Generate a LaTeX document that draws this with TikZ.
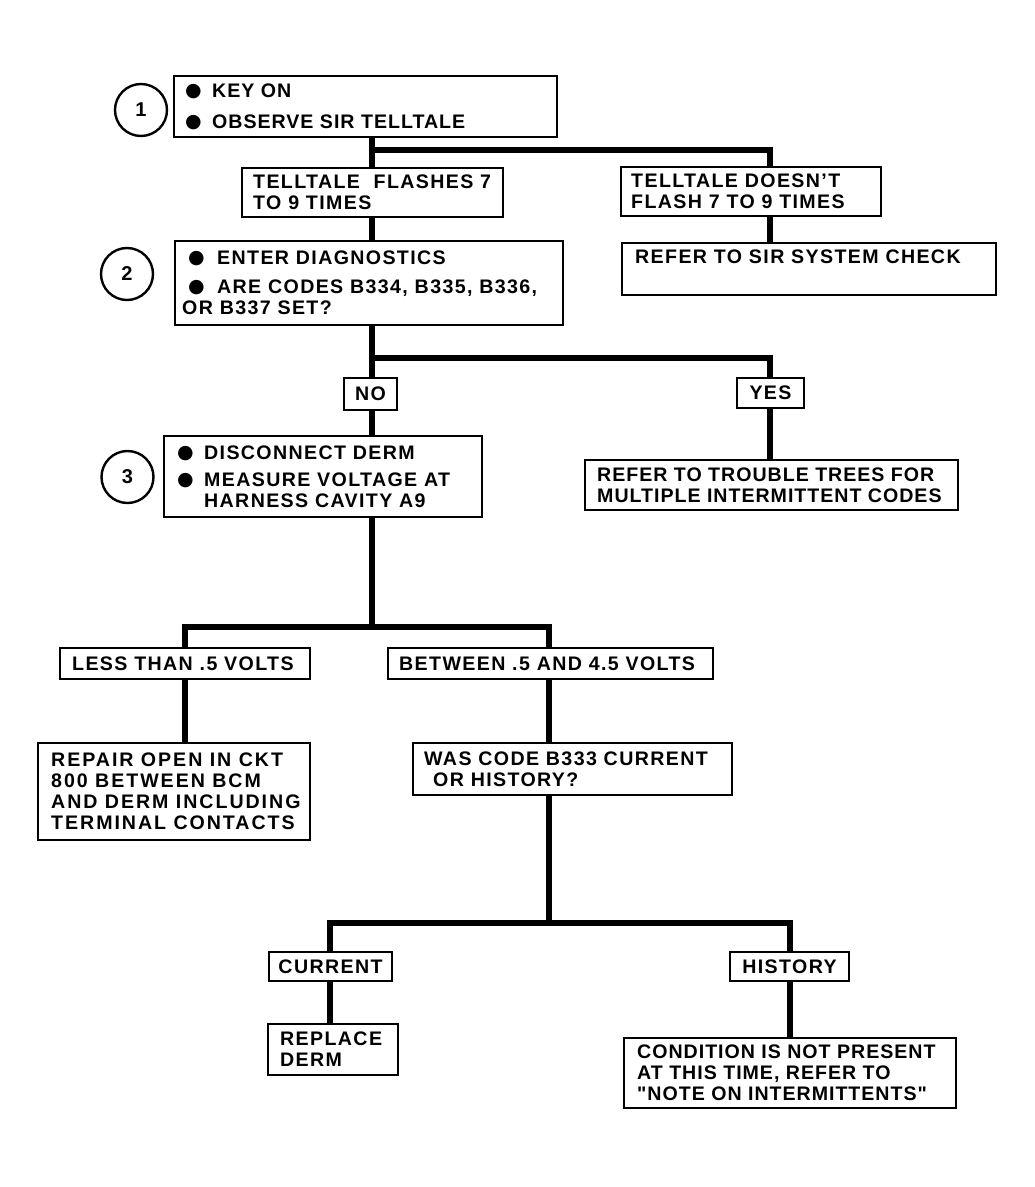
\documentclass[tikz,border=0pt]{standalone}
\usepackage{fontspec}
\setmainfont{Liberation Sans}[LetterSpace=7]
\newfontfamily\tightf{Liberation Sans}[LetterSpace=5]
\newfontfamily\widef{Liberation Sans}[LetterSpace=10]
\newfontfamily\qfont{Liberation Sans}[LetterSpace=5]
\newfontfamily\dejavu{DejaVu Sans}
\usetikzlibrary{backgrounds}
\newcommand\bl[1]{\makebox[#1][l]{\raisebox{0.6pt}{\dejavu\fontsize{9.5pt}{10pt}\selectfont ●}}}
\newcommand\sq{{\qfont\bfseries "}}
\tikzset{
  box/.style={draw, line width=1.2pt, fill=white, inner sep=0pt, rectangle},
  txt/.style={inner sep=0pt, align=left, font=\bfseries\fontsize{9.8pt}{10.5pt}\selectfont},
  ttxt/.style={txt, font=\tightf\bfseries\fontsize{9.8pt}{10.5pt}\selectfont},
  wtxt/.style={txt, font=\widef\bfseries\fontsize{9.8pt}{10.5pt}\selectfont},
  ctxt/.style={box, font=\bfseries\fontsize{9.8pt}{10.5pt}\selectfont},
  circ/.style={draw, circle, line width=1.2pt, minimum size=26pt, inner sep=0pt, font=\bfseries\fontsize{10pt}{12pt}\selectfont},
  conn/.style={line width=3.4pt, line join=miter, line cap=butt}
}
\begin{document}
\begin{tikzpicture}[x=0.5pt,y=-0.5pt]
\useasboundingbox (0,0) rectangle (1034,1187);
% step 1
\node[circ] (c1) at (141,110) {1};
\node[box, minimum width=191.5pt, minimum height=30.5pt] (b1) at (365.5,106.5) {};
\node[ttxt, anchor=west] (b1t) at ([xshift=6pt]b1.west) {\bl{13.5pt}KEY ON\\[5pt]\bl{13.5pt}OBSERVE SIR TELLTALE};
\node[box, minimum width=130.5pt, minimum height=24.5pt] (fl) at (372.5,192.5) {};
\node[txt, anchor=west] (flt) at ([xshift=6pt]fl.west) {TELLTALE\ \ FLASHES 7\\TO 9 TIMES};
\node[box, minimum width=130pt, minimum height=24.5pt] (dn) at (751,191.5) {};
\node[txt, anchor=west] (dnt) at ([xshift=5.5pt]dn.west) {TELLTALE DOESN’T\\FLASH 7 TO 9 TIMES};
\node[box, minimum width=187pt, minimum height=26pt] (sir) at (809,269) {};
\node[txt, anchor=north west] (sirt) at ([xshift=7pt,yshift=-4pt]sir.north west) {REFER TO SIR SYSTEM CHECK};
% step 2
\node[circ] (c2) at (127,274) {2};
\node[box, minimum width=194pt, minimum height=42pt] (b2) at (369,283) {};
\node[txt, anchor=west] (b2t) at ([xshift=4pt]b2.west) {\hspace*{3pt}\bl{14.5pt}ENTER DIAGNOSTICS\\[4pt]\hspace*{3pt}\bl{14.5pt}ARE CODES B334, B335, B336,\\OR B337 SET?};
\node[ctxt, minimum width=26.5pt, minimum height=16pt] (no) at (370.5,394) {NO};
\node[ctxt, minimum width=33.5pt, minimum height=15pt] (yes) at (770.5,393) {YES};
% step 3
\node[circ] (c3) at (127.5,477) {3};
\node[box, minimum width=159pt, minimum height=40.5pt] (b3) at (323,476.5) {};
\node[txt, anchor=west] (b3t) at ([xshift=7pt]b3.west) {\bl{13.5pt}DISCONNECT DERM\\[3pt]\bl{13.5pt}MEASURE VOLTAGE AT\\\hspace*{13.5pt}HARNESS CAVITY A9};
\node[box, minimum width=186.5pt, minimum height=25pt] (tr) at (771.5,485) {};
\node[ttxt, anchor=west] (trt) at ([xshift=6.5pt]tr.west) {REFER TO TROUBLE TREES FOR\\MULTIPLE INTERMITTENT CODES};
\node[box, minimum width=125pt, minimum height=15.5pt] (ls) at (185,663.5) {};
\node[txt, anchor=west] (lst) at ([xshift=6.5pt]ls.west) {LESS THAN .5 VOLTS};
\node[box, minimum width=162.5pt, minimum height=15.5pt] (bt) at (550.5,663.5) {};
\node[txt, anchor=west] (btt) at ([xshift=6pt]bt.west) {BETWEEN .5 AND 4.5 VOLTS};
\node[box, minimum width=136pt, minimum height=48.5pt] (rp) at (174,791.5) {};
\node[wtxt, anchor=west] (rpt) at ([xshift=7pt]rp.west) {REPAIR OPEN IN CKT\\800 BETWEEN BCM\\AND DERM INCLUDING\\TERMINAL CONTACTS};
\node[box, minimum width=159.5pt, minimum height=26pt] (wc) at (572.5,769) {};
\node[txt, anchor=west] (wct) at ([xshift=6pt]wc.west) {WAS CODE B333 CURRENT\\\hspace*{4.5pt}OR HISTORY?};
\node[ctxt, minimum width=61.5pt, minimum height=14.5pt] (cu) at (330.5,966.5) {CURRENT};
\node[ctxt, minimum width=59.5pt, minimum height=14.5pt] (hi) at (789.5,966.5) {HISTORY};
\node[box, minimum width=65pt, minimum height=25.5pt] (rd) at (333,1049.5) {};
\node[txt, anchor=west] (rdt) at ([xshift=6.5pt]rd.west) {REPLACE\\DERM};
\node[box, minimum width=166pt, minimum height=35pt] (cd) at (790,1073) {};
\node[ttxt, anchor=west] (cdt) at ([xshift=7pt]cd.west) {CONDITION IS NOT PRESENT\\AT THIS TIME, REFER TO\\\sq NOTE ON INTERMITTENTS\sq};
% connectors
\coordinate (j1) at (372,150);
\coordinate (k1) at (770,150);
\coordinate (j2) at (372,358);
\coordinate (k2) at (770,358);
\coordinate (j3) at (372,627);
\coordinate (l3) at (185,627);
\coordinate (r3) at (549,627);
\coordinate (j4) at (549,923);
\coordinate (l4) at (330,923);
\coordinate (r4) at (790,923);
\begin{pgfonlayer}{background}
\fill[white] (0,0) rectangle (1034,1187);
\draw[conn] (j1 |- b1.center) -- (j1 |- b2.center);
\draw[conn] (j1) -- (k1) -- (k1 |- sir.center);
\draw[conn] (j2 |- b2.center) -- (j2 |- b3.center);
\draw[conn] (j2) -- (k2) -- (k2 |- tr.center);
\draw[conn] (j3 |- b3.center) -- (j3);
\draw[conn] (l3 |- rp.center) -- (l3) -- (r3) -- (r3 |- wc.center);
\draw[conn] (j4 |- wc.center) -- (j4);
\draw[conn] (l4 |- rd.center) -- (l4) -- (r4) -- (r4 |- cd.center);
\end{pgfonlayer}
\end{tikzpicture}
\end{document}
